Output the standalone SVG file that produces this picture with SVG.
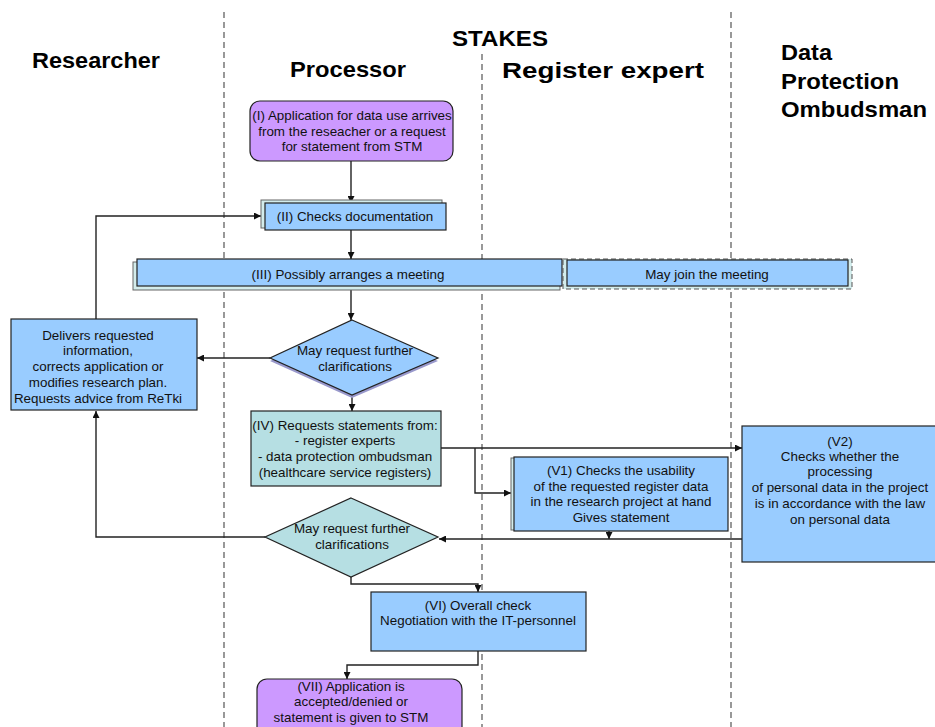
<svg xmlns="http://www.w3.org/2000/svg" width="935" height="727" viewBox="0 0 935 727">
<defs>
<marker id="ah" viewBox="0 0 10 10" refX="10" refY="5" markerWidth="7" markerHeight="7" markerUnits="userSpaceOnUse" orient="auto">
<path d="M0,0 L10,5 L0,10 z" fill="#111"/>
</marker>
<style>
.lane{stroke:#555;stroke-width:1.2;stroke-dasharray:6,4;fill:none}
.title{font-family:"Liberation Sans",Arial,sans-serif;font-weight:bold;font-size:22px;fill:#000}
.t{font-family:"Liberation Sans",Arial,sans-serif;font-size:13.4px;fill:#111;text-anchor:middle}
.blue{fill:#99ccff;stroke:#222;stroke-width:1.2}
.purple{fill:#cc99ff;stroke:#222;stroke-width:1.2}
.teal{fill:#b6dfe3;stroke:#222;stroke-width:1.2}
.shadow{fill:#d3ecec;stroke:#666;stroke-width:1}
.conn{stroke:#222;stroke-width:1.4;fill:none}
</style>
</defs>
<rect width="935" height="727" fill="#fff"/>
<g id="lanes">
<line class="lane" x1="224" y1="12" x2="224" y2="727"/>
<line class="lane" x1="482" y1="54" x2="482" y2="727"/>
<line class="lane" x1="731" y1="12" x2="731" y2="727"/>
</g>
<g id="titles">
<text class="title" x="452" y="46" textLength="96" lengthAdjust="spacingAndGlyphs">STAKES</text>
<text class="title" x="32" y="68" textLength="128" lengthAdjust="spacingAndGlyphs">Researcher</text>
<text class="title" x="290" y="77" textLength="116" lengthAdjust="spacingAndGlyphs">Processor</text>
<text class="title" x="502" y="78" textLength="202" lengthAdjust="spacingAndGlyphs">Register expert</text>
<text class="title" x="781" y="60" textLength="51" lengthAdjust="spacingAndGlyphs">Data</text>
<text class="title" x="781" y="89" textLength="118" lengthAdjust="spacingAndGlyphs">Protection</text>
<text class="title" x="781" y="117" textLength="146" lengthAdjust="spacingAndGlyphs">Ombudsman</text>
</g>
<g id="connectors">
<line class="conn" x1="351" y1="161" x2="351" y2="203" marker-end="url(#ah)"/>
<line class="conn" x1="351" y1="230" x2="351" y2="259" marker-end="url(#ah)"/>
<line class="conn" x1="351" y1="287" x2="351" y2="320" marker-end="url(#ah)"/>
<line class="conn" x1="352" y1="396" x2="352" y2="411" marker-end="url(#ah)"/>
<line class="conn" x1="270" y1="358" x2="197" y2="358" marker-end="url(#ah)"/>
<polyline class="conn" points="96,319 96,216 261,216" marker-end="url(#ah)"/>
<line class="conn" x1="441" y1="448" x2="742" y2="448" marker-end="url(#ah)"/>
<polyline class="conn" points="475,448 475,493 511,493" marker-end="url(#ah)"/>
<line class="conn" x1="609" y1="531" x2="609" y2="539" marker-end="url(#ah)"/>
<line class="conn" x1="742" y1="539" x2="439" y2="539" marker-end="url(#ah)"/>
<polyline class="conn" points="265,537 96,537 96,411" marker-end="url(#ah)"/>
<polyline class="conn" points="351,577 351,584 478,584 478,592" marker-end="url(#ah)"/>
<polyline class="conn" points="478,651 478,665 347,665 347,679" marker-end="url(#ah)"/>
</g>
<g id="nodeI">
<rect class="purple" x="250" y="101" width="203" height="60" rx="10"/>
<text class="t" x="352" y="120">(I) Application for data use arrives</text>
<text class="t" x="352" y="136">from the reseacher or a request</text>
<text class="t" x="352" y="151">for statement from STM</text>
</g>
<g id="nodeII">
<rect class="shadow" x="261" y="200" width="181" height="28"/>
<rect class="blue" x="265" y="203" width="181" height="27"/>
<text class="t" x="355" y="221">(II) Checks documentation</text>
</g>
<g id="nodeIII">
<rect class="shadow" x="133" y="262" width="427" height="28"/>
<rect class="blue" x="137" y="259" width="425" height="27"/>
<text class="t" x="348" y="279">(III) Possibly arranges a meeting</text>
</g>
<g id="nodeJoin">
<rect x="563" y="259" width="289" height="30" fill="#d3ecec" stroke="#555" stroke-width="1" stroke-dasharray="5,3"/>
<rect class="blue" x="567" y="260" width="281" height="26"/>
<text class="t" x="707" y="279">May join the meeting</text>
</g>
<g id="decision1">
<polygon points="352,323 438,361 352,398 270,361" fill="#9999cc"/>
<polygon class="blue" points="352,320 438,358 352,395 270,358"/>
<text class="t" x="355" y="355">May request further</text>
<text class="t" x="355" y="371">clarifications</text>
</g>
<g id="nodeDeliver">
<rect class="blue" x="11" y="319" width="186" height="91"/>
<text class="t" x="98" y="340">Delivers requested</text>
<text class="t" x="98" y="355">information,</text>
<text class="t" x="98" y="371">corrects application or</text>
<text class="t" x="98" y="387">modifies research plan.</text>
<text class="t" x="98" y="403">Requests advice from ReTki</text>
</g>
<g id="nodeIV">
<rect class="teal" x="251" y="411" width="190" height="75"/>
<text class="t" x="345" y="430">(IV) Requests statements from:</text>
<text class="t" x="345" y="445">- register experts</text>
<text class="t" x="345" y="461">- data protection ombudsman</text>
<text class="t" x="345" y="477">(healthcare service registers)</text>
</g>
<g id="nodeV1">
<rect class="shadow" x="511" y="458" width="214" height="72"/>
<rect class="blue" x="514" y="457" width="214" height="74"/>
<text class="t" x="621" y="475">(V1) Checks the usability</text>
<text class="t" x="621" y="491">of the requested register data</text>
<text class="t" x="621" y="506">in the research project at hand</text>
<text class="t" x="621" y="522">Gives statement</text>
</g>
<g id="nodeV2">
<rect class="blue" x="742" y="426" width="200" height="136"/>
<text class="t" x="840" y="446">(V2)</text>
<text class="t" x="840" y="461">Checks whether the</text>
<text class="t" x="840" y="476">processing</text>
<text class="t" x="840" y="492">of personal data in the project</text>
<text class="t" x="840" y="508">is in accordance with the law</text>
<text class="t" x="840" y="524">on personal data</text>
</g>
<g id="decision2">
<polygon class="teal" points="351,498 438,537 351,577 265,537"/>
<text class="t" x="352" y="533">May request further</text>
<text class="t" x="352" y="549">clarifications</text>
</g>
<g id="nodeVI">
<rect class="blue" x="371" y="592" width="215" height="59"/>
<text class="t" x="478" y="610">(VI) Overall check</text>
<text class="t" x="478" y="625">Negotiation with the IT-personnel</text>
</g>
<g id="nodeVII">
<rect class="purple" x="257" y="679" width="205" height="62" rx="10"/>
<text class="t" x="351" y="691">(VII) Application is</text>
<text class="t" x="351" y="706">accepted/denied or</text>
<text class="t" x="351" y="722">statement is given to STM</text>
</g>
</svg>
